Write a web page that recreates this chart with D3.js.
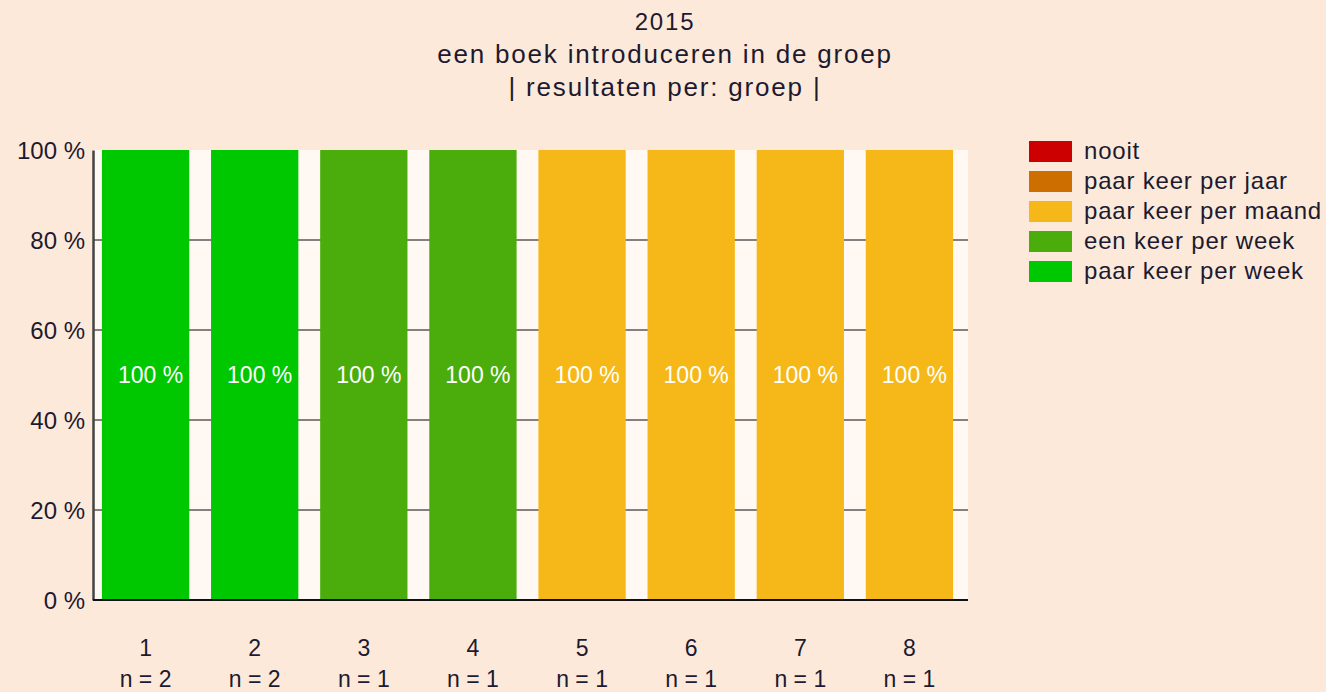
<!DOCTYPE html>
<html><head><meta charset="utf-8">
<script src="https://cdn.jsdelivr.net/npm/d3@7"></script>
<style>
html,body{margin:0;padding:0;background:#fde9d9;}
svg{display:block;font-family:"Liberation Sans",Arial,sans-serif;}
</style></head><body>
<svg id="chart" width="1326" height="692"></svg>
<script>
const titleLines = ["2015", "een boek introduceren in de groep", "| resultaten per: groep |"];
const groups = ["1","2","3","4","5","6","7","8"];
const counts = [2,2,1,1,1,1,1,1];
const seriesNames = ["nooit","paar keer per jaar","paar keer per maand","een keer per week","paar keer per week"];
const seriesColors = ["#cc0000","#cc6e00","#f5b818","#4aad0c","#00c800"];
const nooit = [0,0,0,0,0,0,0,0];
const perJaar = [0,0,0,0,0,0,0,0];
const perMaand = [0,0,0,0,100,100,100,100];
const eenPerWeek = [0,0,100,100,0,0,0,0];
const paarPerWeek = [100,100,0,0,0,0,0,0];
const yTicks = [0,20,40,60,80,100];

(function(){
const seriesValues = [nooit, perJaar, perMaand, eenPerWeek, paarPerWeek];
const rows = groups.map((g,i)=>{const r={group:g}; seriesNames.forEach((s,j)=>r[s]=seriesValues[j][i]); return r;});
const stacked = d3.stack().keys(seriesNames)(rows);

const svg = d3.select("#chart");
const pL=93, pR=968, pT=150, pB=600;
const txt = "#1c1a30";

const x = d3.scaleBand().domain(groups).range([91,964]).paddingInner(0.2).paddingOuter(0.1);
const y = d3.scaleLinear().domain([0,100]).range([pB, pT]);
const color = d3.scaleOrdinal().domain(seriesNames).range(seriesColors);

// title
svg.append("g").selectAll("text").data(titleLines).join("text")
  .attr("x",665).attr("y",(d,i)=>30+i*33).attr("text-anchor","middle")
  .attr("font-size",(d,i)=>i===0?24:26).attr("letter-spacing",1.8).attr("fill",txt).text(d=>d);

// plot bg
svg.append("rect").attr("x",pL).attr("y",pT).attr("width",pR-pL).attr("height",pB-pT).attr("fill","#fff8f3");

// grid
svg.append("g").selectAll("line").data(yTicks.filter(t=>t>0&&t<100)).join("line")
  .attr("x1",pL).attr("x2",pR).attr("y1",d=>y(d)).attr("y2",d=>y(d))
  .attr("stroke","#5a5a5a").attr("stroke-width",1.5);

// bars
const layer = svg.append("g").selectAll("g").data(stacked).join("g").attr("fill",d=>color(d.key));
layer.selectAll("rect").data(d=>d).join("rect")
  .attr("x",d=>x(d.data.group)).attr("width",x.bandwidth())
  .attr("y",d=>y(d[1])).attr("height",d=>y(d[0])-y(d[1]));

// in-bar labels
stacked.forEach(s=>{
  svg.append("g").selectAll("text").data(s.filter(d=>d[1]-d[0]>0)).join("text")
    .attr("x",d=>x(d.data.group)+x.bandwidth()/2+5).attr("y",d=>y((d[0]+d[1])/2)+8)
    .attr("text-anchor","middle").attr("font-size",23).attr("fill","#ffffff")
    .text(d=>Math.round(d[1]-d[0])+" %");
});

// y axis
const yAxis = d3.axisLeft(y).tickValues(yTicks).tickFormat(d=>d+" %").tickSize(0).tickPadding(8);
const ya = svg.append("g").attr("transform",`translate(${pL},0)`).call(yAxis);
ya.select(".domain").attr("stroke","#444").attr("stroke-width",2.5);
ya.selectAll("text").attr("font-size",24).attr("fill",txt).attr("font-family","Liberation Sans, Arial, sans-serif").attr("dy","0.36em");

// x axis
const xAxis = d3.axisBottom(x).tickSize(0).tickFormat(()=> "");
const xa = svg.append("g").attr("transform",`translate(0,${pB})`).call(xAxis);
xa.select(".domain").attr("d",`M${pL},0H${pR}`).attr("stroke","#111").attr("stroke-width",2);
const xl = svg.append("g").selectAll("text").data(groups).join("text")
  .attr("x",d=>x(d)+x.bandwidth()/2).attr("text-anchor","middle").attr("font-size",23).attr("fill",txt);
xl.append("tspan").attr("x",d=>x(d)+x.bandwidth()/2).attr("y",656).text(d=>d);
xl.append("tspan").attr("x",d=>x(d)+x.bandwidth()/2).attr("y",687).text((d,i)=>"n = "+counts[i]);

// legend
const lg = svg.append("g").selectAll("g").data(seriesNames).join("g")
  .attr("transform",(d,i)=>`translate(1029,${141+i*30})`);
lg.append("rect").attr("width",43).attr("height",21).attr("fill",d=>color(d));
lg.append("text").attr("x",55).attr("y",18).attr("font-size",24).attr("letter-spacing",0.8).attr("fill",txt).text(d=>d);
})();
</script></body></html>
